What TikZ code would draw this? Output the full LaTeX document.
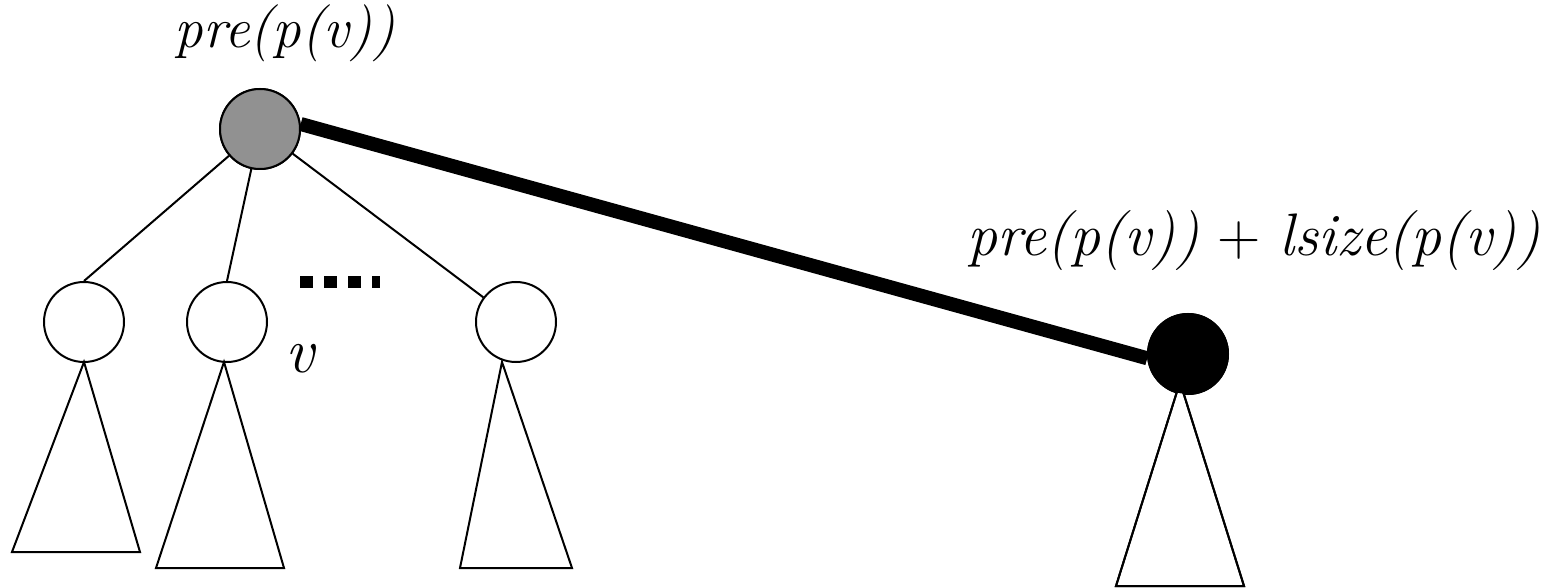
\documentclass[tikz,border=0pt]{standalone}
\begin{document}
\begin{tikzpicture}[x=0.5pt,y=-0.5pt,
  nd/.style={circle,draw,line width=1pt,minimum size=40pt,inner sep=0pt},
  edge/.style={line width=1pt},
  tri/.style={draw,line width=1pt,fill=white},
  lbl/.style={inner sep=0pt,anchor=base}]
\useasboundingbox (0,0) rectangle (1554,588);
\node[nd,fill={rgb,255:red,145;green,145;blue,145}] (top) at (260,129) {};
\node[nd,fill=black] (blk) at (1188,354) {};
\draw[line width=7pt] (top.7) -- (blk.186);
\node[nd,fill=black] at (1188,354) {};
\node[nd,fill={rgb,255:red,145;green,145;blue,145}] at (260,129) {};
% children
\node[nd,fill=white] (c1) at (84,322) {};
\node[nd,fill=white] (c2) at (227,322) {};
\node[nd,fill=white] (c3) at (516,322) {};
\draw[edge] (top) -- (c1.north);
\draw[edge] (top) -- (c2.north);
\draw[edge] (top) -- (c3);
% subtrees
\coordinate (a1) at (84,362);
\coordinate (a2) at (224,362);
\coordinate (a3) at (502,362);
\coordinate (a4) at (1180,382);
\draw[tri] (a1) -- (140,552) -- (12,552) -- cycle;
\draw[tri] (a2) -- (284,568) -- (156,568) -- cycle;
\draw[tri] (a3) -- (572,568) -- (460,568) -- cycle;
\draw[tri] (a4) -- (1244,586) -- (1116,586) -- cycle;
\node[nd,fill=black,draw=none] at (1188,354) {};
\draw[line width=1pt] (a4) -- (1244,586) -- (1116,586) -- cycle;
% dots
\coordinate (d1) at (300,282);
\coordinate (d2) at (380,282);
\draw[line width=6pt,dash pattern=on 6.5pt off 5.5pt] (d1) -- (d2);
% labels
\node[lbl,font=\fontsize{28.5pt}{34pt}\selectfont\itshape] (lt) at (285,48) {pre(p(v))};
\node[lbl,font=\fontsize{32pt}{38pt}\selectfont\itshape] (lv) at (300,372) {v};
\node[lbl,font=\fontsize{30pt}{36pt}\selectfont] (lr) at (1254,256) {\textit{pre(p(v))} + \textit{lsize(p(v))}};
\end{tikzpicture}
\end{document}
